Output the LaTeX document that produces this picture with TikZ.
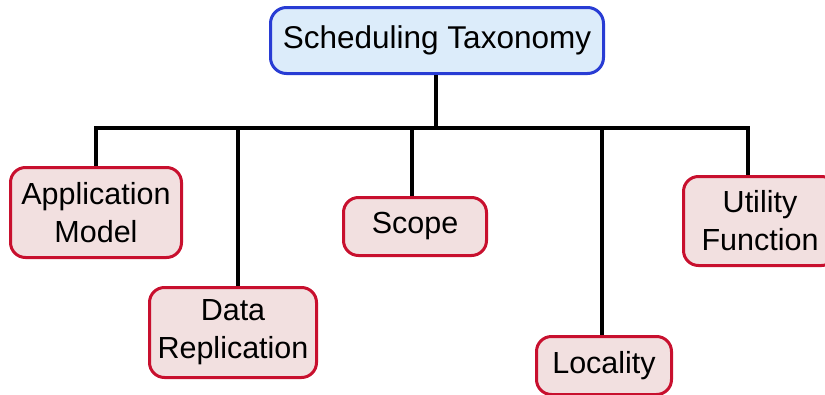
\documentclass[tikz,border=0pt]{standalone}
\usepackage{fontspec}
\setmainfont{Liberation Sans}
\definecolor{rootline}{RGB}{40,60,212}
\definecolor{rootfill}{RGB}{220,236,250}
\definecolor{catline}{RGB}{200,16,46}
\definecolor{catfill}{RGB}{242,224,224}
\tikzset{
  rootbox/.style={draw=rootline, fill=rootfill, line width=3pt, rounded corners=16pt,
    inner sep=0pt, align=center, font=\fontsize{31.5}{38}\selectfont},
  catbox/.style={draw=catline, fill=catfill, line width=3pt, rounded corners=15pt,
    inner sep=0pt, align=center, font=\fontsize{30.5}{38}\selectfont},
  conn/.style={line width=3.5pt, draw=black}
}
\begin{document}
\begin{tikzpicture}[x=1pt,y=-1pt]
\clip (0,0) rectangle (825,394);
\useasboundingbox (0,0) rectangle (825,394);
\node[rootbox, minimum width=333pt, minimum height=66pt] (root) at (437,40.5) {Scheduling Taxonomy};
\node[catbox, minimum width=171pt, minimum height=90pt] (app) at (96,212.5) {Application\\Model};
\node[catbox, minimum width=167pt, minimum height=90pt] (data) at (233,332.5) {Data\\Replication};
\node[catbox, minimum width=143pt, minimum height=58pt] (scope) at (415,226.5) {Scope};
\node[catbox, minimum width=135pt, minimum height=58pt] (loc) at (604,365.5) {Locality};
\node[catbox, minimum width=153pt, minimum height=89pt] (util) at (760,221) {Utility\\Function};
\coordinate (hub) at (436,128);
\coordinate (b1) at (96,128);
\coordinate (b2) at (238,128);
\coordinate (b3) at (412,128);
\coordinate (b4) at (602,128);
\coordinate (b5) at (748,128);
\draw[conn] (root.south -| hub) -- (hub);
\draw[conn, line cap=rect] (b1) -- (b5);
\draw[conn] (b1) -- (b1 |- app.north);
\draw[conn] (b2) -- (b2 |- data.north);
\draw[conn] (b3) -- (b3 |- scope.north);
\draw[conn] (b4) -- (b4 |- loc.north);
\draw[conn] (b5) -- (b5 |- util.north);
\end{tikzpicture}
\end{document}
